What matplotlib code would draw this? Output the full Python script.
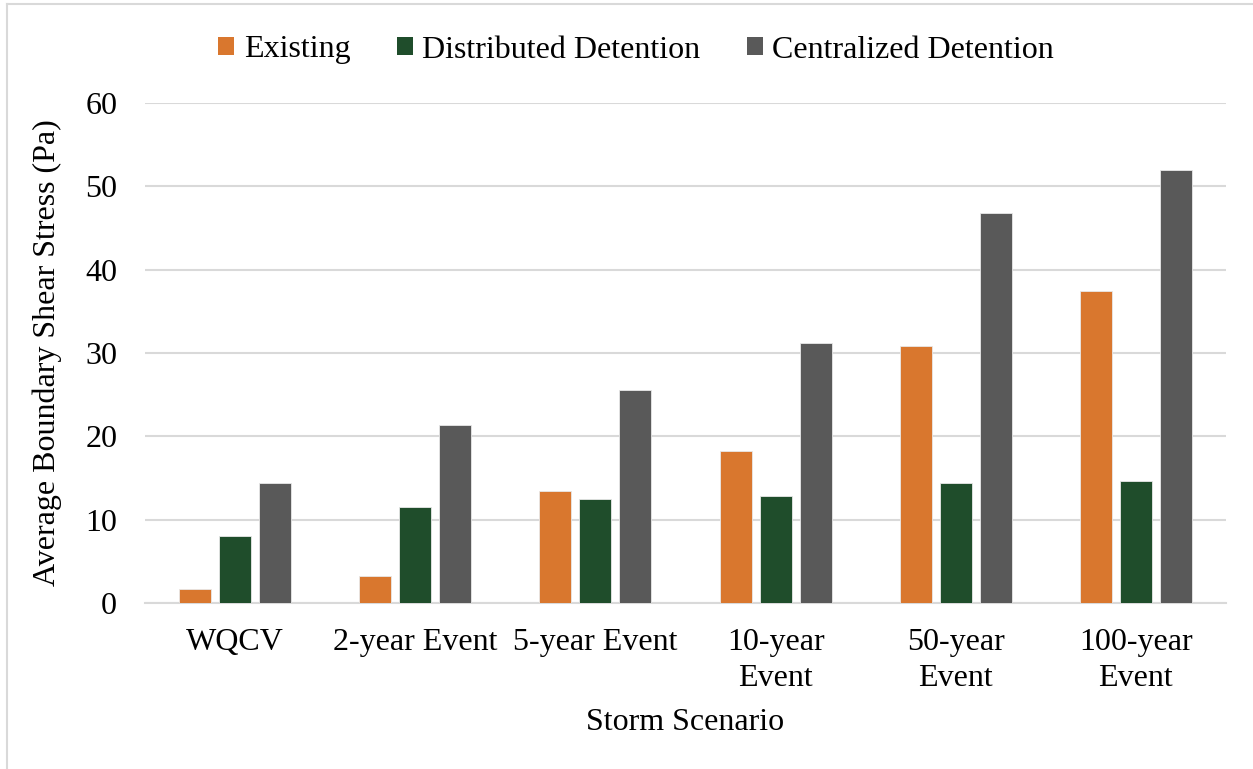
import numpy as np
import matplotlib
matplotlib.use("Agg")
import matplotlib.pyplot as plt
from matplotlib.lines import Line2D
from matplotlib.patches import Patch

plt.rcParams["font.family"] = ["Liberation Serif", "DejaVu Serif"]

categories = ["WQCV", "2-year Event", "5-year Event", "10-year\nEvent", "50-year\nEvent", "100-year\nEvent"]
existing = [1.7, 3.3, 13.4, 18.3, 30.8, 37.4]
distributed = [8.1, 11.5, 12.5, 12.9, 14.4, 14.6]
centralized = [14.4, 21.4, 25.6, 31.2, 46.8, 52.0]

series_names = ["Existing", "Distributed Detention", "Centralized Detention"]
series_colors = ["#D9772E", "#1F4D2B", "#595959"]
series_values = [existing, distributed, centralized]

W, H = 1253, 769
fig = plt.figure(figsize=(W / 100, H / 100), dpi=100)
ax = fig.add_axes([145 / W, 1 - 603 / H, (1226 - 145) / W, (603 - 103) / H])

fs = 23
x = np.arange(len(categories))
bar_w = 0.177
step = 0.222
for k, (name, vals, col) in enumerate(zip(series_names, series_values, series_colors)):
    ax.bar(x + (k - 1) * step, vals, width=bar_w, color=col, label=name,
           edgecolor="#e8e8e8", linewidth=0.6, zorder=3)

ax.set_xlim(-0.5, len(categories) - 0.5)
ax.set_ylim(0, 60)
ax.set_yticks(np.arange(0, 61, 10))
ax.yaxis.grid(True, color="#d9d9d9", linewidth=1.5, zorder=0)
ax.set_axisbelow(True)
for s in ["top", "right", "left"]:
    ax.spines[s].set_visible(False)
ax.spines["bottom"].set_color("#d9d9d9")
ax.spines["bottom"].set_linewidth(1.5)

ax.set_xticks(x)
ax.set_xticklabels(categories, fontsize=fs, linespacing=1.32)
ax.tick_params(axis="x", length=0, pad=18)
ax.tick_params(axis="y", length=0, pad=20, labelsize=fs)

ax.set_ylabel("Average Boundary Shear Stress (Pa)", fontsize=fs)
ax.yaxis.set_label_coords((62 - 145) / (1226 - 145), 0.5)
ax.set_xlabel("Storm Scenario", fontsize=fs)
ax.xaxis.set_label_coords(0.5, -(722 - 603) / 500)
ax.xaxis.label.set_va("center")

handles = [Patch(facecolor=c, edgecolor="none") for c in series_colors]
fig.legend(handles, series_names, loc="center", bbox_to_anchor=(636 / W, 1 - 50 / H),
           ncol=3, frameon=False, fontsize=fs, handlelength=0.5, handleheight=0.5,
           handletextpad=0.3, columnspacing=1.45, borderaxespad=0)

# chart-area frame (top and left edges)
fig.add_artist(Line2D([7 / W, 7 / W], [0, 1 - 4 / H], transform=fig.transFigure,
                      color="#d9d9d9", linewidth=1.5))
fig.add_artist(Line2D([7 / W, 1], [1 - 4 / H, 1 - 4 / H], transform=fig.transFigure,
                      color="#d9d9d9", linewidth=1.5))

fig.savefig("out.png", dpi=100, facecolor="white")
